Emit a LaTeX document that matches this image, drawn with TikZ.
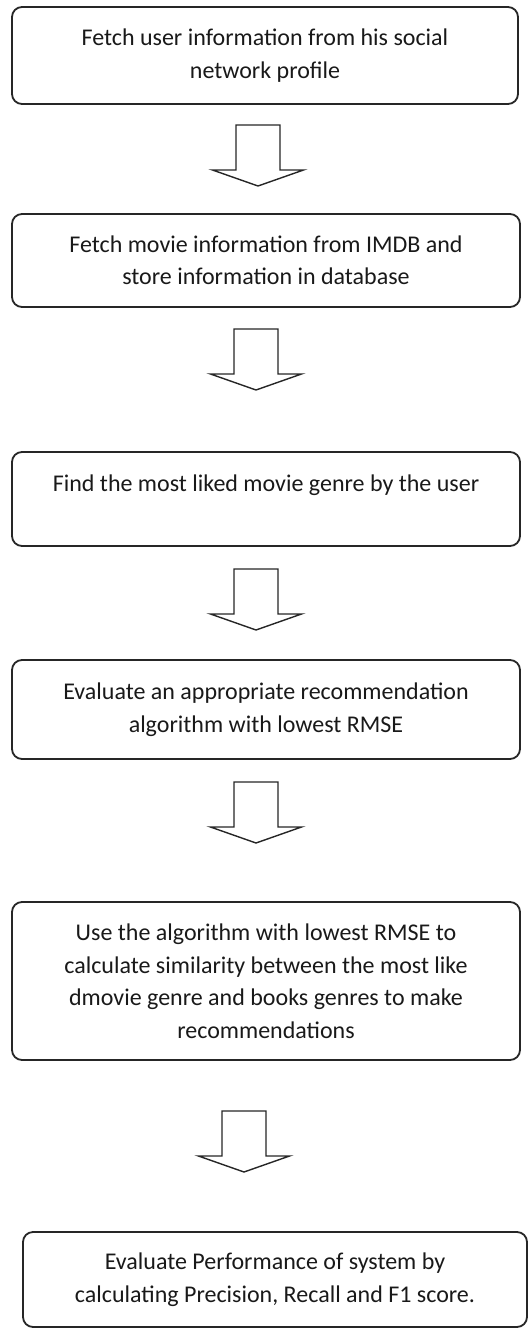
\documentclass[tikz,border=0pt]{standalone}
\usepackage{fontspec}
\setmainfont{Carlito}
\begin{document}
\begin{tikzpicture}[x=1pt,y=-1pt,
  stepbox/.style={draw=black!85,line width=1.8pt,rounded corners=10pt,
    minimum width=#1,inner sep=0pt,align=center,text=black!90,
    font=\fontsize{24}{32.5}\selectfont},
  blockarrow/.style={draw=black!85,line width=1.4pt,line join=miter,fill=white}]
\useasboundingbox (0,0) rectangle (528,1328);
\node[stepbox=506pt,minimum height=97pt] (b1) at (265,55.5)
  {Fetch user information from his social\\network profile};
\node[stepbox=508pt,minimum height=93pt] (b2) at (266,260.5)
  {Fetch movie information from IMDB and\\store information in database};
\node[stepbox=508pt,minimum height=94pt] (b3) at (266,499)
  {Find the most liked movie genre by the user\\\mbox{}};
\node[stepbox=508pt,minimum height=99pt] (b4) at (266,709.5)
  {Evaluate an appropriate recommendation\\algorithm with lowest RMSE};
\node[stepbox=508pt,minimum height=158pt] (b5) at (266,981)
  {Use the algorithm with lowest RMSE to\\calculate similarity between the most like\\dmovie genre and books genres to make\\recommendations};
\node[stepbox=504pt,minimum height=95pt] (b6) at (275,1279.5)
  {Evaluate Performance of system by\\calculating Precision, Recall and F1 score.};
\coordinate (a1) at (258,125);
\coordinate (a2) at (256,329);
\coordinate (a3) at (256,569);
\coordinate (a4) at (256,782);
\coordinate (a5) at (244,1111);
\foreach \a in {a1,a2,a3,a4,a5}{
  \draw[blockarrow] (\a) ++(-22,0) -- ++(0,45) -- ++(-23.5,0) -- ++(45.5,16)
    -- ++(45.5,-16) -- ++(-23.5,0) -- ++(0,-45) -- cycle;
}
\end{tikzpicture}
\end{document}
